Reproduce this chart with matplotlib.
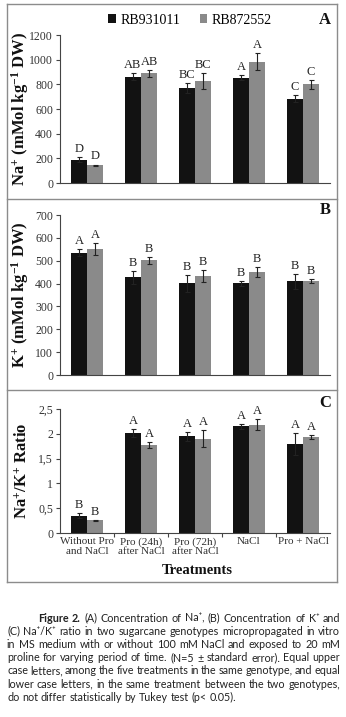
import matplotlib
matplotlib.use('Agg')
import matplotlib.pyplot as plt
import numpy as np
from matplotlib.lines import Line2D
from matplotlib.patches import Patch

plt.rcParams['font.family'] = ['Liberation Serif', 'DejaVu Serif']
plt.rcParams['mathtext.fontset'] = 'custom'
plt.rcParams['mathtext.rm'] = 'Liberation Serif:bold'
plt.rcParams['mathtext.it'] = 'Liberation Serif:bold'
plt.rcParams['mathtext.bf'] = 'Liberation Serif:bold'

# data
treatments = ['Without Pro\nand NaCl', 'Pro (24h)\nafter NaCl', 'Pro (72h)\nafter NaCl', 'NaCl', 'Pro + NaCl']
genotypes = ['RB931011', 'RB872552']

na_rb931 = [190, 862, 772, 855, 685]
na_rb931_err = [20, 30, 40, 20, 30]
na_rb872 = [145, 888, 830, 985, 800]
na_rb872_err = [5, 25, 65, 70, 35]
na_let931 = ['D', 'AB', 'BC', 'A', 'C']
na_let872 = ['D', 'AB', 'BC', 'A', 'C']

k_rb931 = [535, 427, 401, 401, 410]
k_rb931_err = [15, 28, 38, 10, 32]
k_rb872 = [552, 502, 433, 450, 412]
k_rb872_err = [25, 15, 26, 22, 9]
k_let931 = ['A', 'B', 'B', 'B', 'B']
k_let872 = ['A', 'B', 'B', 'B', 'B']

ratio_rb931 = [0.35, 2.02, 1.95, 2.15, 1.80]
ratio_rb931_err = [0.05, 0.08, 0.09, 0.05, 0.22]
ratio_rb872 = [0.26, 1.78, 1.90, 2.18, 1.94]
ratio_rb872_err = [0.01, 0.06, 0.17, 0.11, 0.04]
ratio_let931 = ['B', 'A', 'A', 'A', 'A']
ratio_let872 = ['B', 'A', 'A', 'A', 'A']

W, H = 346, 717
fig = plt.figure(figsize=(W / 100, H / 100), dpi=100)

def fx(px):
    return px / W

def fy(py):
    return 1 - py / H

black = '#121212'
gray = '#8a8a8a'
x = np.arange(len(treatments))
bw = 0.3

panels = [
    (35, 183, (0, 1200), [0, 200, 400, 600, 800, 1000, 1200], None,
     na_rb931, na_rb931_err, na_rb872, na_rb872_err, na_let931, na_let872,
     'Na$^{+}$ (mMol kg$^{-1}$ DW)', 'A', 20),
    (215, 375, (0, 700), [0, 100, 200, 300, 400, 500, 600, 700], None,
     k_rb931, k_rb931_err, k_rb872, k_rb872_err, k_let931, k_let872,
     'K$^{+}$ (mMol kg$^{-1}$ DW)', 'B', 210),
    (409, 533, (0, 2.5), [0, 0.5, 1, 1.5, 2, 2.5], ['0', '0,5', '1', '1,5', '2', '2,5'],
     ratio_rb931, ratio_rb931_err, ratio_rb872, ratio_rb872_err, ratio_let931, ratio_let872,
     'Na$^{+}$/K$^{+}$ Ratio', 'C', 403),
]

axes = []
for (top, bot, ylim, yt, ytl, v1, e1, v2, e2, l1, l2, ylab, tag, tagy) in panels:
    ax = fig.add_axes([fx(60), fy(bot), fx(330) - fx(60), fy(top) - fy(bot)])
    axes.append(ax)
    ax.bar(x - bw / 2, v1, bw, color=black, zorder=2)
    ax.bar(x + bw / 2, v2, bw, color=gray, zorder=2)
    ax.errorbar(x - bw / 2, v1, yerr=e1, fmt='none', ecolor='#222222', elinewidth=0.8, capsize=1.8, capthick=0.8, zorder=3)
    ax.errorbar(x + bw / 2, v2, yerr=e2, fmt='none', ecolor='#222222', elinewidth=0.8, capsize=1.8, capthick=0.8, zorder=3)
    for i in range(len(x)):
        ax.annotate(l1[i], (x[i] - bw / 2, v1[i] + e1[i]), xytext=(0, 1.5), textcoords='offset points',
                    ha='center', va='bottom', fontsize=9, color='#222222')
        ax.annotate(l2[i], (x[i] + bw / 2, v2[i] + e2[i]), xytext=(0, 1.5), textcoords='offset points',
                    ha='center', va='bottom', fontsize=9, color='#222222')
    ax.set_xlim(-0.5, len(x) - 0.5)
    ax.set_ylim(*ylim)
    ax.set_yticks(yt)
    if ytl is not None:
        ax.set_yticklabels(ytl)
    ax.spines['top'].set_visible(False)
    ax.spines['right'].set_visible(False)
    for s in ['left', 'bottom']:
        ax.spines[s].set_color('#444444')
        ax.spines[s].set_linewidth(0.8)
    ax.tick_params(axis='y', direction='out', length=3, width=0.8, color='#444444',
                   labelsize=8.5, labelcolor='#333333', pad=2)
    ax.set_ylabel(ylab, fontsize=12, fontweight='bold', color='#111111')
    ax.yaxis.set_label_coords((31 - 60) / 270, 0.5)
    fig.text(fx(325), fy(tagy), tag, fontsize=12, fontweight='bold', ha='center', va='center', color='#111111')

for ax in axes[:2]:
    ax.set_xticks([])

axc = axes[2]
axc.set_xticks(x)
axc.set_xticklabels(treatments, fontsize=8, color='#333333', linespacing=1.05)
axc.tick_params(axis='x', which='major', length=0, pad=3)
axc.set_xticks(np.arange(0.5, len(x) - 0.5, 1), minor=True)
axc.tick_params(axis='x', which='minor', direction='out', length=3, width=0.8, color='#444444')
fig.text(fx(197), fy(571), 'Treatments', fontsize=10.5, fontweight='bold', ha='center', va='center', color='#111111')

# legend
handles = [Patch(facecolor=black), Patch(facecolor=gray)]
fig.legend(handles, genotypes, loc='center', bbox_to_anchor=(fx(190), fy(20)), ncol=2, frameon=False,
           fontsize=10, handlelength=0.55, handleheight=0.55, handletextpad=0.3, columnspacing=1.4)

# frame
fc = '#8c8c8c'
for (xa, xb, ya, yb) in [(7, 337, 4, 4), (7, 337, 582, 582), (7, 7, 4, 582), (337, 337, 4, 582),
                         (7, 337, 199, 199), (7, 337, 390, 390)]:
    fig.add_artist(Line2D([fx(xa), fx(xb)], [fy(ya), fy(yb)], color=fc, lw=1.0))

# caption (justified)
cap_lines = [
    [('Figure 2.', 'bold'), ('(A) Concentration of Na\u207a, (B) Concentration of K\u207a and', 'normal')],
    [('(C) Na\u207a/K\u207a ratio in two sugarcane genotypes micropropagated in vitro', 'normal')],
    [('in MS medium with or without 100 mM NaCl and exposed to 20 mM', 'normal')],
    [('proline for varying period of time. (N=5 \u00b1 standard error). Equal upper', 'normal')],
    [('case letters, among the five treatments in the same genotype, and equal', 'normal')],
    [('lower case letters, in the same treatment between the two genotypes,', 'normal')],
    [('do not differ statistically by Tukey test (p< 0.05).', 'normal')],
]
cap_font = ['Lato', 'DejaVu Sans']
renderer = fig.canvas.get_renderer()

# size the caption font so the last (unjustified) line ends where it does in the original
probe = fig.text(0, 0, cap_lines[-1][0][0], fontsize=8, family=cap_font)
cap_size = 8 * (237 - 7) / probe.get_window_extent(renderer).width
probe.remove()
cap_size = min(cap_size, 8.2)

sp_a = fig.text(0, 0, 'a a', fontsize=cap_size, family=cap_font)
sp_b = fig.text(0, 0, 'aa', fontsize=cap_size, family=cap_font)
space = sp_a.get_window_extent(renderer).width - sp_b.get_window_extent(renderer).width
sp_a.remove()
sp_b.remove()
for li, parts in enumerate(cap_lines):
    y = fy(618 + 13.2 * li)
    x0 = 38 if li == 0 else 7
    words = []
    for txt, wt in parts:
        for w in txt.split(' '):
            words.append((w, wt))
    objs = []
    for w, wt in words:
        t = fig.text(0, y, w, fontsize=cap_size, fontweight=wt, family=cap_font, color='#222222', va='center', ha='left')
        objs.append(t)
    widths = [t.get_window_extent(renderer).width for t in objs]
    if li < len(cap_lines) - 1:
        gap = max((340 - x0 - sum(widths)) / (len(words) - 1), space * 0.6)
    else:
        gap = space
    cx = x0
    for t, wd in zip(objs, widths):
        t.set_x(fx(cx))
        cx += wd + gap

fig.savefig('out.png', dpi=100)
